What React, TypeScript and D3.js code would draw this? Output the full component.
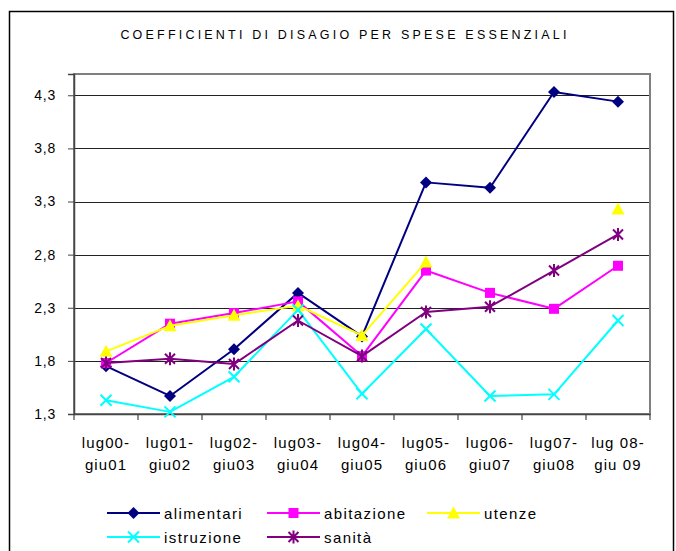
import { useEffect, useRef } from "react";
import * as d3 from "d3";

const categories = [
  ["lug00-", "giu01"],
  ["lug01-", "giu02"],
  ["lug02-", "giu03"],
  ["lug03-", "giu04"],
  ["lug04-", "giu05"],
  ["lug05-", "giu06"],
  ["lug06-", "giu07"],
  ["lug07-", "giu08"],
  ["lug 08-", "giu 09"],
];

const alimentari = [1.75, 1.47, 1.91, 2.44, 2.03, 3.48, 3.43, 4.33, 4.24];
const abitazione = [1.78, 2.15, 2.25, 2.36, 1.845, 2.65, 2.44, 2.29, 2.695];
const utenze: (number | null)[] = [1.89, 2.13, 2.23, 2.32, 2.04, 2.73, null, null, 3.23];
const istruzione = [1.43, 1.32, 1.65, 2.28, 1.49, 2.1, 1.47, 1.485, 2.18];
const sanita = [1.78, 1.82, 1.77, 2.18, 1.845, 2.26, 2.31, 2.65, 2.99];

const yTicks = [1.3, 1.8, 2.3, 2.8, 3.3, 3.8, 4.3];

const series = [
  { name: "alimentari", values: alimentari, color: "#000080", marker: "diamond" },
  { name: "abitazione", values: abitazione, color: "#FF00FF", marker: "square" },
  { name: "utenze", values: utenze, color: "#FFFF00", marker: "triangle" },
  { name: "istruzione", values: istruzione, color: "#00FFFF", marker: "x" },
  { name: "sanità", values: sanita, color: "#800080", marker: "star" },
];

const FONT = "'Liberation Sans', Arial, sans-serif";

function drawMarker(g: any, type: string, x: number, y: number, color: string) {
  if (type === "diamond") {
    g.append("path")
      .attr("d", `M${x},${y - 6}L${x + 6},${y}L${x},${y + 6}L${x - 6},${y}Z`)
      .attr("fill", color);
  } else if (type === "square") {
    g.append("rect")
      .attr("x", x - 5)
      .attr("y", y - 5)
      .attr("width", 10)
      .attr("height", 10)
      .attr("fill", color);
  } else if (type === "triangle") {
    g.append("path")
      .attr("d", `M${x},${y - 6.5}L${x + 6.5},${y + 5.5}L${x - 6.5},${y + 5.5}Z`)
      .attr("fill", color);
  } else if (type === "x") {
    g.append("path")
      .attr("d", `M${x - 5.5},${y - 5.5}L${x + 5.5},${y + 5.5}M${x - 5.5},${y + 5.5}L${x + 5.5},${y - 5.5}`)
      .attr("stroke", color)
      .attr("stroke-width", 2)
      .attr("fill", "none");
  } else {
    g.append("path")
      .attr(
        "d",
        `M${x - 5},${y - 5}L${x + 5},${y + 5}M${x - 5},${y + 5}L${x + 5},${y - 5}M${x},${y - 6.5}L${x},${y + 6.5}`
      )
      .attr("stroke", color)
      .attr("stroke-width", 2)
      .attr("fill", "none");
  }
}

export default function App() {
  const ref = useRef<SVGSVGElement>(null);

  useEffect(() => {
    if (!ref.current) return;
    const svg = d3.select(ref.current);
    svg.selectAll("*").remove();

    const plot = { left: 74, top: 74, right: 650, bottom: 414 };

    // outer frame
    svg.append("rect")
      .attr("x", 9.5)
      .attr("y", 11.5)
      .attr("width", 664)
      .attr("height", 560)
      .attr("fill", "#fff")
      .attr("stroke", "#000")
      .attr("stroke-width", 1.5);

    // title
    svg.append("text")
      .attr("x", 345)
      .attr("y", 39)
      .attr("text-anchor", "middle")
      .attr("font-family", FONT)
      .attr("font-size", 12.5)
      .attr("letter-spacing", 3.2)
      .attr("fill", "#000")
      .text("COEFFICIENTI DI DISAGIO PER SPESE ESSENZIALI");

    const x = d3.scaleBand()
      .domain(categories.map((c) => c.join(" ")))
      .range([plot.left, plot.right]);

    const y = d3.scaleLinear()
      .domain([1.3, 4.5])
      .range([plot.bottom, plot.top]);

    // gridlines
    svg.append("g")
      .selectAll("line")
      .data(yTicks.slice(1))
      .enter()
      .append("line")
      .attr("x1", plot.left)
      .attr("x2", plot.right)
      .attr("y1", (d) => Math.round(y(d)) + 0.5)
      .attr("y2", (d) => Math.round(y(d)) + 0.5)
      .attr("stroke", "#222")
      .attr("stroke-width", 1);

    // plot frame
    svg.append("rect")
      .attr("x", plot.left)
      .attr("y", plot.top)
      .attr("width", plot.right - plot.left)
      .attr("height", plot.bottom - plot.top)
      .attr("fill", "none")
      .attr("stroke", "#808080")
      .attr("stroke-width", 2);

    // Y axis
    const yAxis = svg.append("g")
      .attr("transform", `translate(${plot.left},0)`)
      .call(
        d3.axisLeft(y)
          .tickValues(yTicks)
          .tickSize(6)
          .tickPadding(12)
          .tickFormat((d) => d3.format(".1f")(d as number).replace(".", ","))
      );
    yAxis.select(".domain").attr("stroke", "#444").attr("stroke-width", 1.5);
    yAxis.selectAll("line").attr("stroke", "#444");
    yAxis.selectAll("text")
      .attr("font-family", FONT)
      .attr("font-size", 14)
      .attr("letter-spacing", 0.8)
      .attr("fill", "#000");

    // X axis
    const xAxis = svg.append("g")
      .attr("transform", `translate(0,${plot.bottom})`)
      .call(d3.axisBottom(x).tickSize(0).tickFormat(() => ""));
    xAxis.select(".domain").attr("stroke", "#444").attr("stroke-width", 1.5);
    xAxis.selectAll(".tick").remove();

    const bounds = d3.range(categories.length + 1).map((i) => plot.left + i * x.bandwidth());
    xAxis.selectAll("line.bt")
      .data(bounds)
      .enter()
      .append("line")
      .attr("class", "bt")
      .attr("x1", (d) => d)
      .attr("x2", (d) => d)
      .attr("y1", 0)
      .attr("y2", 6)
      .attr("stroke", "#444")
      .attr("stroke-width", 1.2);

    const labels = svg.append("g")
      .attr("font-family", FONT)
      .attr("font-size", 15)
      .attr("letter-spacing", 1.1)
      .attr("text-anchor", "middle")
      .attr("fill", "#000");
    categories.forEach((c) => {
      const cx = (x(c.join(" ")) as number) + x.bandwidth() / 2;
      labels.append("text").attr("x", cx).attr("y", 448).text(c[0]);
      labels.append("text").attr("x", cx).attr("y", 470).text(c[1]);
    });

    const cx = (i: number) => (x(categories[i].join(" ")) as number) + x.bandwidth() / 2;

    // series
    series.forEach((s) => {
      const line = d3.line<number | null>()
        .defined((d) => d !== null)
        .x((_, i) => cx(i))
        .y((d) => y(d as number));
      svg.append("path")
        .datum(s.values)
        .attr("fill", "none")
        .attr("stroke", s.color)
        .attr("stroke-width", 2)
        .attr("stroke-linejoin", "round")
        .attr("d", line);
      const mg = svg.append("g");
      s.values.forEach((v, i) => {
        if (v === null) return;
        drawMarker(mg, s.marker, cx(i), y(v), s.color);
      });
    });

    // legend
    const legendPos = [
      { lx: 107, ly: 513 },
      { lx: 267, ly: 513 },
      { lx: 427, ly: 513 },
      { lx: 107, ly: 537 },
      { lx: 267, ly: 537 },
    ];
    const legend = svg.append("g");
    series.forEach((s, i) => {
      const { lx, ly } = legendPos[i];
      legend.append("line")
        .attr("x1", lx)
        .attr("x2", lx + 53)
        .attr("y1", ly)
        .attr("y2", ly)
        .attr("stroke", s.color)
        .attr("stroke-width", 2);
      drawMarker(legend, s.marker, lx + 26.5, ly, s.color);
      legend.append("text")
        .attr("x", lx + 57)
        .attr("y", ly + 5.5)
        .attr("font-family", FONT)
        .attr("font-size", 15)
        .attr("letter-spacing", 1.4)
        .attr("fill", "#000")
        .text(s.name);
    });
  }, []);

  return (
    <svg
      ref={ref}
      width={676}
      height={551}
      style={{ position: "absolute", left: 0, top: 0, background: "#fff" }}
    />
  );
}
